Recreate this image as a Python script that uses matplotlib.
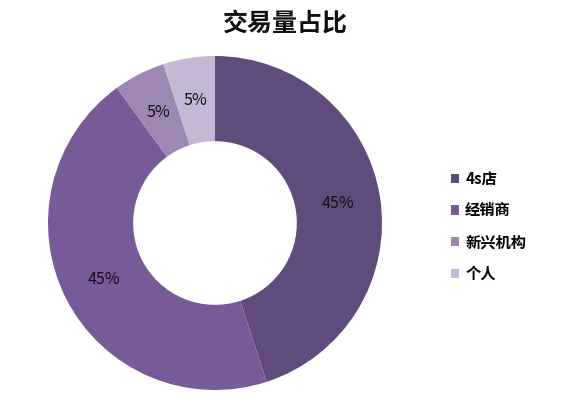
import matplotlib.pyplot as plt
from matplotlib.patches import Patch

plt.rcParams['font.family'] = ['Noto Sans CJK SC', 'DejaVu Sans']

labels = ['4s店', '经销商', '新兴机构', '个人']
shares = [45, 45, 5, 5]
colors = ['#5f4b7c', '#775a98', '#9d88b4', '#c4b8d4']

W, H = 565, 417
fig = plt.figure(figsize=(W / 100, H / 100), dpi=100)

cx, cy, r = 215, 223, 167
ax = fig.add_axes([(cx - r) / W, (H - cy - r) / H, 2 * r / W, 2 * r / H])

wedges, texts, autotexts = ax.pie(
    shares, colors=colors, startangle=90, counterclock=False,
    autopct='%d%%', pctdistance=0.745,
    wedgeprops=dict(width=0.51, edgecolor='none'),
    textprops=dict(fontsize=11.5, color='#111111'))
ax.set_xlim(-1, 1)
ax.set_ylim(-1, 1)

fig.text(0.505, 1 - 24 / H, '交易量占比', ha='center', va='center',
         fontsize=18, fontweight='bold', color='#111111')

handles = [Patch(facecolor=c, edgecolor='none') for c in colors]
leg = fig.legend(handles, labels, loc='upper left',
                 bbox_to_anchor=(437 / W, 1 - 157 / H), frameon=False,
                 prop=dict(size=11, weight='bold'),
                 handlelength=0.55, handleheight=0.55, handletextpad=0.4,
                 labelspacing=1.03)

fig.savefig('out.png', dpi=100)
